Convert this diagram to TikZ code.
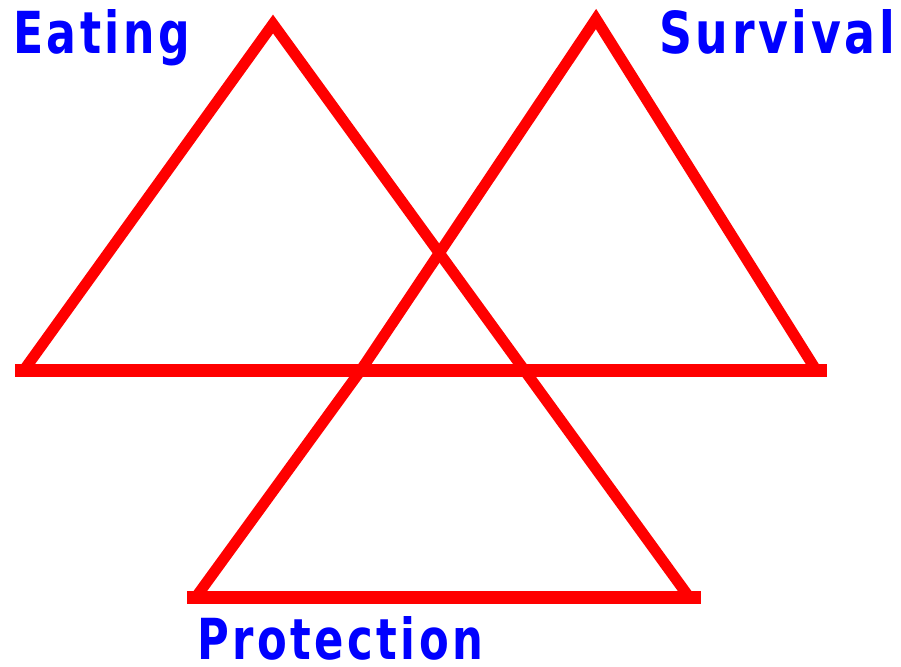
\documentclass[tikz,border=0pt]{standalone}
\usepackage{fontspec}
\setmainfont{DejaVu Sans}
\newfontfamily\lblfont[LetterSpace=8]{DejaVu Sans}
\definecolor{pured}{RGB}{255,0,0}
\definecolor{publ}{RGB}{0,0,255}
\tikzset{
  leg/.style={draw=pured, line width=11pt, line join=miter, line cap=butt},
  basebar/.style={draw=pured, line width=13pt, line cap=butt},
  lbl/.style={text=publ, inner sep=0pt, anchor=base west, font=\lblfont\bfseries}
}
\begin{document}
\begin{tikzpicture}[x=1pt,y=-1pt]
\useasboundingbox (0,0) rectangle (901,666);
\fill[white] (0,0) rectangle (901,666);
% apexes and ends
\coordinate (A) at (273,24);
\coordinate (B) at (24,370);
\coordinate (F) at (689,597);
\coordinate (D) at (596,19);
\coordinate (K) at (361,370);
\coordinate (E) at (196,597);
\coordinate (C) at (816,370);
\coordinate (H1) at (15,370);
\coordinate (H2) at (827,370);
\coordinate (G1) at (187,597);
\coordinate (G2) at (701,597);
% horizontal bars
\draw[basebar] (H1) -- (H2);
\draw[basebar] (G1) -- (G2);
% legs
\draw[leg] (B) -- (A) -- (F);
\draw[leg] (E) -- (K) -- (D) -- (C);
% labels
\node[lbl] (eat) at (13,54) {\resizebox{177pt}{44pt}{Eating}};
\node[lbl] (sur) at (659,54) {\resizebox{236pt}{44pt}{Survival}};
\node[lbl] (pro) at (197,659) {\resizebox{286pt}{43pt}{Protection}};
\end{tikzpicture}
\end{document}
